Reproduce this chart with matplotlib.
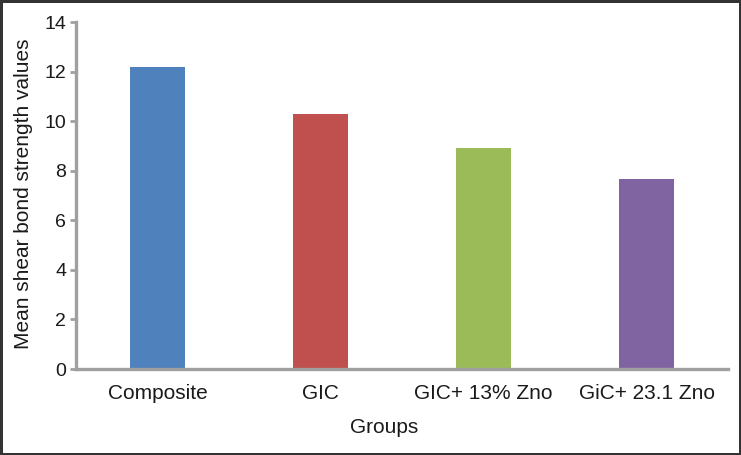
import numpy as np
import matplotlib
matplotlib.use("Agg")
import matplotlib.pyplot as plt

groups = ["Composite", "GIC", "GIC+ 13% Zno", "GiC+ 23.1 Zno"]
mean_sbs = [12.2, 10.28, 8.9, 7.65]
bar_colors = ["#4F81BD", "#C0504D", "#9BBB59", "#8064A2"]
yticks = [0, 2, 4, 6, 8, 10, 12, 14]

plt.rcParams['font.family'] = ['Liberation Sans', 'DejaVu Sans']

fig = plt.figure(figsize=(7.41, 4.55), dpi=100)
fig.patch.set_edgecolor('#333333')
fig.patch.set_linewidth(2.5)
ax = fig.add_axes([0.1026, 0.1890, 0.8799, 0.7626])

idx = np.arange(len(groups))
ax.bar(idx + 0.5, mean_sbs, width=0.336, color=bar_colors, zorder=1)

ax.set_xlim(0, len(groups))
ax.set_ylim(0, 14)
ax.set_xticks(idx + 0.5)
ax.set_xticklabels(groups, fontsize=15, color='#1a1a1a')
ax.set_yticks(yticks)
ax.set_yticklabels([str(v) for v in yticks], fontsize=14, color='#1a1a1a')

for s in ['top', 'right']:
    ax.spines[s].set_visible(False)
for s in ['left', 'bottom']:
    ax.spines[s].set_color('#a0a0a0')
    ax.spines[s].set_linewidth(2.4)
    ax.spines[s].set_zorder(3)

ax.tick_params(axis='x', length=0, pad=11)
ax.tick_params(axis='y', length=4, width=2, color='#a0a0a0', pad=3)

ax.set_xlabel("Groups", fontsize=15, color='#1a1a1a')
ax.xaxis.set_label_coords(0.473, -0.142)
ax.set_ylabel("Mean shear bond strength values", fontsize=15, color='#1a1a1a')
ax.yaxis.set_label_coords(-0.066, 0.505)

fig.savefig("out.png", dpi=100)
